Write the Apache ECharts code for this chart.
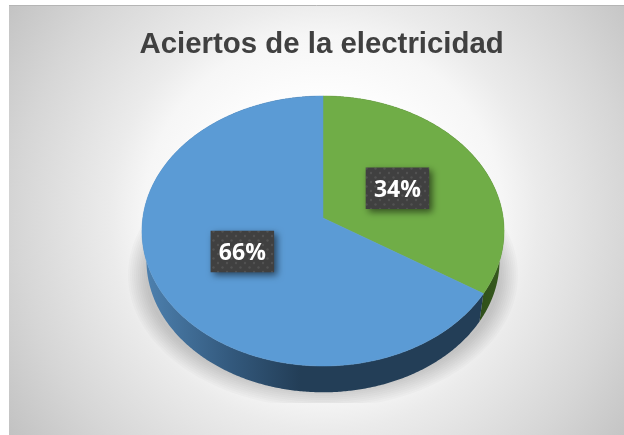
<!DOCTYPE html>
<html>
<head>
<meta charset="utf-8">
<style>html,body{margin:0;padding:0;background:#fff}#c{width:624px;height:435px}</style>
<script src="https://cdn.jsdelivr.net/npm/echarts@6/dist/echarts.min.js"></script>
</head>
<body>
<div id="c"></div>
<script>
var titleText = 'Aciertos de la electricidad';
var categories = ['Errores', 'Aciertos'];
var values = [34, 66];
var topColors = ['#70ad47', '#5b9bd5'];

var chart = echarts.init(document.getElementById('c'), null, {renderer: 'canvas'});
var total = values.reduce(function (a, b) { return a + b; }, 0);
var apex = {x: 323, y: 218}, R = 180.2, S = 133.75, K = 0.0963;
var wallScale = 0.975, wallDrop = 30;

function project(deg, f) {
  var t = deg * Math.PI / 180, s = Math.sin(t), c = -Math.cos(t), w = 1 - K * c;
  return [R * s / w * f, S * c / w * f];
}
function topPt(deg, f) { var p = project(deg, f == null ? 1 : f); return [apex.x + p[0], apex.y + p[1]]; }
function lowPt(deg) { var p = project(deg, wallScale); return [apex.x + p[0], apex.y + p[1] + wallDrop]; }
function range(i) {
  var a = 0;
  for (var k = 0; k < i; k++) a += values[k];
  return [a / total * 360, (a + values[i]) / total * 360];
}
function arc(fn, a, b) {
  var pts = [], n = Math.max(4, Math.ceil((b - a) * 2));
  for (var j = 0; j <= n; j++) pts.push(fn(a + (b - a) * j / n));
  return pts;
}

var dots = document.createElement('canvas');
dots.width = 9; dots.height = 9;
(function () {
  var g = dots.getContext('2d');
  g.fillStyle = '#404040'; g.fillRect(0, 0, 9, 9);
  g.fillStyle = '#525252';
  [[2, 2], [6.5, 6.5]].forEach(function (d) { g.beginPath(); g.arc(d[0], d[1], 1.2, 0, 7); g.fill(); });
})();

var wallFills = [
  new echarts.graphic.LinearGradient(470, 0, 505, 0, [{offset: 0, color: '#2c4a18'}, {offset: 1, color: '#385c1f'}], true),
  new echarts.graphic.LinearGradient(146, 0, 300, 0, [
    {offset: 0, color: '#4d80ae'}, {offset: 0.55, color: '#33597d'}, {offset: 1, color: '#233e57'}
  ], true)
];

var shadowLayers = [7, 5, 3, 1, -1, -3, -5, -7, -9, -11];
var shadowSeries = {
  type: 'custom', coordinateSystem: 'none', silent: true, z: 2,
  data: shadowLayers.map(function (v) { return [v]; }),
  renderItem: function (params, api) {
    var grow = api.value(0), pts = [];
    for (var d = 0; d < 360; d += 2) {
      var t = d * Math.PI / 180;
      pts.push([323 + (188 + grow) * Math.sin(t), Math.min(403, 275 - (126 + grow) * Math.cos(t))]);
    }
    return {type: 'polygon', shape: {points: pts}, style: {fill: 'rgba(0,0,0,0.02)'}};
  }
};

var wallSeries = {
  type: 'custom', coordinateSystem: 'none', silent: true, z: 3,
  data: values.map(function (v) { return [v]; }),
  renderItem: function (params) {
    var r = range(params.dataIndex);
    var upper = arc(topPt, r[0], r[1]);
    var lower = arc(lowPt, r[0], r[1]).reverse();
    return {type: 'polygon', shape: {points: upper.concat(lower)}, style: {fill: wallFills[params.dataIndex]}};
  }
};

var topSeries = {
  type: 'custom', coordinateSystem: 'none', silent: true, z: 4,
  data: values.map(function (v) { return [v]; }),
  renderItem: function (params) {
    var r = range(params.dataIndex);
    var pts = [[apex.x, apex.y]].concat(arc(topPt, r[0], r[1]));
    return {type: 'polygon', shape: {points: pts}, style: {fill: topColors[params.dataIndex], stroke: topColors[params.dataIndex], lineWidth: 0.5}};
  }
};

var labelSeries = {
  type: 'custom', coordinateSystem: 'none', silent: true, z: 5,
  data: values.map(function (v) { return [v]; }),
  renderItem: function (params, api) {
    var r = range(params.dataIndex), mid = (r[0] + r[1]) / 2;
    var p = topPt(mid, 0.49), w = 63.5, h = 41.5;
    p = [p[0] + 0.5, p[1] + 0.5];
    return {
      type: 'group',
      children: [
        {type: 'rect', shape: {x: p[0] - w / 2, y: p[1] - h / 2, width: w, height: h},
          style: {fill: {image: dots, repeat: 'repeat'}, shadowColor: 'rgba(0,0,0,0.55)', shadowBlur: 7, shadowOffsetX: 3, shadowOffsetY: 3}},
        {type: 'text', style: {text: api.value(0) + '%', x: p[0], y: p[1] + 2, align: 'center', verticalAlign: 'middle',
          fill: '#fff', font: 'bold 23px "Open Sans", sans-serif'}}
      ]
    };
  }
};

chart.setOption({
  animation: false,
  backgroundColor: '#ffffff',
  title: {
    text: titleText, left: 134.5, top: 25,
    textStyle: {fontFamily: '"Liberation Sans", Arial, sans-serif', fontWeight: 'bold', fontSize: 29.4, color: '#404040'}
  },
  graphic: [
    {type: 'rect', z: -2, silent: true, shape: {x: 9, y: 5, width: 615, height: 430},
      style: {fill: new echarts.graphic.RadialGradient(0.511, 0.49, 0.89, [
        {offset: 0, color: '#ffffff'}, {offset: 0.28, color: '#ffffff'}, {offset: 0.47, color: '#f6f6f6'},
        {offset: 0.56, color: '#ebebeb'}, {offset: 0.8, color: '#d6d6d6'}, {offset: 1, color: '#c2c2c2'}
      ])}},
    {type: 'line', z: -1, silent: true, shape: {x1: 9, y1: 5.5, x2: 624, y2: 5.5}, style: {stroke: '#b5b5b5', lineWidth: 1}}
  ],
  series: [shadowSeries, wallSeries, topSeries, labelSeries]
});
</script>
</body>
</html>
